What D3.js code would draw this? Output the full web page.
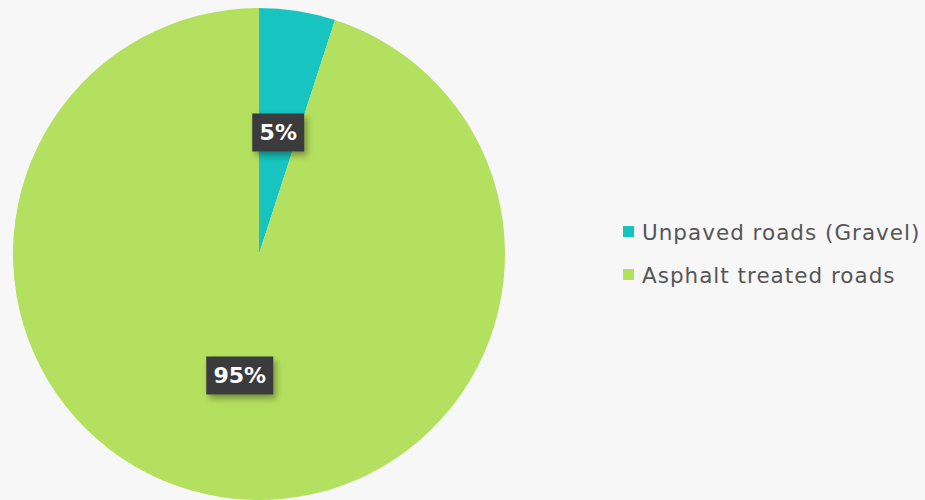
<!DOCTYPE html>
<html>
<head>
<meta charset="utf-8">
<script src="https://cdn.jsdelivr.net/npm/d3@7"></script>
<style>
  body { margin: 0; background: #f7f7f7; }
  svg { display: block; }
</style>
</head>
<body>
<div class="pie-chart"></div>
<script>
const categories = ["Unpaved roads (Gravel)", "Asphalt treated roads"];
const values = [5, 95];
const colors = ["#17c4c0", "#b4e05f"];

const width = 925;
const height = 500;

const svg = d3.select('.pie-chart').append('svg')
    .attr('width', width)
    .attr('height', height)
    .attr('viewBox', [0, 0, width, height]);

const defs = svg.append('defs');
const shadow = defs.append('filter').attr('id', 'shadow')
    .attr('x', '-30%').attr('y', '-30%').attr('width', '160%').attr('height', '170%');
shadow.append('feDropShadow')
    .attr('dx', 3).attr('dy', 4).attr('stdDeviation', 3)
    .attr('flood-color', '#000').attr('flood-opacity', 0.35);

const radius = 246;
const g = svg.append('g').attr('transform', 'translate(259,254)');

const data = categories.map((c, i) => ({ name: c, value: values[i] }));

const pie = d3.pie().value(d => d.value).sort(null);
const arc = d3.arc().innerRadius(0).outerRadius(radius);
const arcs = pie(data);

g.selectAll('path')
    .data(arcs)
    .join('path')
    .attr('d', arc)
    .attr('fill', (d, i) => colors[i]);

// labels in dark boxes
const total = d3.sum(values);
const labels = g.selectAll('g.label')
    .data(arcs)
    .join('g')
    .attr('class', 'label')
    .attr('transform', d => `translate(${arc.centroid(d)})`);

labels.each(function(d) {
    const lg = d3.select(this);
    const txt = Math.round(d.data.value / total * 100) + '%';
    const w = txt.length * 15 + 22;
    lg.append('rect')
        .attr('x', -w / 2).attr('y', -19)
        .attr('width', w).attr('height', 38)
        .attr('fill', '#3b3b3d')
        .attr('filter', 'url(#shadow)');
    lg.append('text')
        .attr('text-anchor', 'middle')
        .attr('dy', '0.36em')
        .attr('fill', '#fff')
        .attr('font-family', 'DejaVu Sans, sans-serif')
        .attr('font-weight', 'bold')
        .attr('font-size', 22)
        .text(txt);
});

// legend
const legend = svg.append('g').attr('transform', 'translate(628,232)');
const items = legend.selectAll('g')
    .data(categories)
    .join('g')
    .attr('transform', (d, i) => `translate(0,${i * 43})`);

items.append('rect')
    .attr('x', -5).attr('y', -6)
    .attr('width', 11).attr('height', 11)
    .attr('fill', (d, i) => colors[i]);

items.append('text')
    .attr('x', 14)
    .attr('dy', '0.35em')
    .attr('fill', '#555')
    .attr('font-family', 'DejaVu Sans, sans-serif')
    .attr('font-size', 21.5)
    .attr('letter-spacing', 1)
    .text(d => d);
</script>
</body>
</html>
